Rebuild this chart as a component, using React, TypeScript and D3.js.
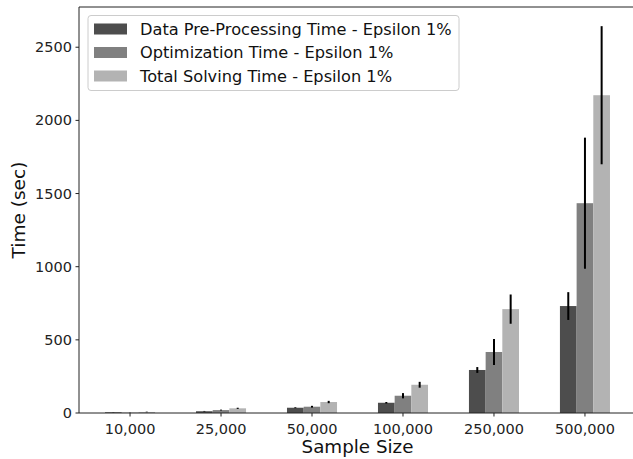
import React from 'react';
import * as d3 from 'd3';

// chart values
const sampleSizes = ['10,000', '25,000', '50,000', '100,000', '250,000', '500,000'];
const seriesNames = [
    'Data Pre-Processing Time - Epsilon 1%',
    'Optimization Time - Epsilon 1%',
    'Total Solving Time - Epsilon 1%'
];
const preProcessing = [5, 12, 36, 70, 294, 731];
const preProcessingErr = [1, 2, 3, 5, 20, 95];
const optimization = [2, 20, 43, 118, 417, 1434];
const optimizationErr = [1, 3, 6, 18, 89, 448];
const totalSolving = [7, 32, 75, 193, 710, 2172];
const totalSolvingErr = [2, 4, 8, 20, 100, 472];
const yTicks = [0, 500, 1000, 1500, 2000, 2500];

const colors = ['#4d4d4d', '#808080', '#b3b3b3'];
const W = 633, H = 459;
const m = {left: 79, top: 7, right: 636, bottom: 413};
const font = 'DejaVu Sans, sans-serif';

export default function App() {
    const values = [preProcessing, optimization, totalSolving];
    const errors = [preProcessingErr, optimizationErr, totalSolvingErr];

    const x = d3.scaleBand()
        .domain(sampleSizes)
        .range([m.left, m.right])
        .paddingInner(0.45)
        .paddingOuter(0.286);
    const xs = d3.scaleBand()
        .domain(seriesNames)
        .range([0, x.bandwidth()]);
    const y = d3.scaleLinear()
        .domain([0, 2775])
        .range([m.bottom, m.top]);

    return (
        <div style={{position: 'fixed', left: 0, top: 0}}>
            <svg width={W} height={H} style={{display: 'block', background: '#fff'}}>
                {/* bars */}
                {seriesNames.map((s, si) => (
                    <g key={s}>
                        {sampleSizes.map((c, ci) => (
                            <rect key={c}
                                x={x(c)! + xs(s)!}
                                y={y(values[si][ci])}
                                width={xs.bandwidth()}
                                height={y(0) - y(values[si][ci])}
                                fill={colors[si]} />
                        ))}
                    </g>
                ))}
                {/* error bars */}
                {seriesNames.map((s, si) => (
                    <g key={s + '-err'}>
                        {sampleSizes.map((c, ci) => {
                            const cx = x(c)! + xs(s)! + xs.bandwidth() / 2;
                            const v = values[si][ci], e = errors[si][ci];
                            return <line key={c} x1={cx} x2={cx}
                                y1={y(v - e)} y2={y(v + e)}
                                stroke="#000" strokeWidth={2} />;
                        })}
                    </g>
                ))}
                {/* spines (right one falls outside the picture) */}
                <line x1={m.left} x2={m.left} y1={m.top} y2={m.bottom} stroke="#222" />
                <line x1={m.left} x2={m.right} y1={m.bottom} y2={m.bottom} stroke="#222" />
                <line x1={m.left} x2={m.right} y1={m.top} y2={m.top} stroke="#222" />
                {/* y axis */}
                {yTicks.map(t => (
                    <g key={t} transform={`translate(0,${y(t)})`}>
                        <line x1={m.left - 3.5} x2={m.left} stroke="#222" />
                        <text x={m.left - 7} dy="0.35em" textAnchor="end"
                            fontFamily={font} fontSize={14.5} fill="#222">{t}</text>
                    </g>
                ))}
                {/* x axis */}
                {sampleSizes.map(c => {
                    const cx = x(c)! + x.bandwidth() / 2;
                    return (
                        <g key={c} transform={`translate(${cx},0)`}>
                            <line y1={m.bottom} y2={m.bottom + 3.5} stroke="#222" />
                            <text y={m.bottom + 21} textAnchor="middle"
                                fontFamily={font} fontSize={14.5} fill="#222">{c}</text>
                        </g>
                    );
                })}
                <text x={(m.left + m.right) / 2} y={453} textAnchor="middle"
                    fontFamily={font} fontSize={18.3} fill="#111">Sample Size</text>
                <text transform={`translate(24.5,${(m.top + m.bottom) / 2}) rotate(-90)`}
                    textAnchor="middle" fontFamily={font} fontSize={18.5} fill="#111">Time (sec)</text>
                {/* legend */}
                <rect x={88} y={15.5} width={371} height={75} rx={3}
                    fill="#fff" fillOpacity={0.8} stroke="#ccc" />
                {seriesNames.map((s, si) => (
                    <g key={s + '-leg'} transform={`translate(94,${29 + si * 23.5})`}>
                        <rect x={0} y={-5.5} width={33} height={11} fill={colors[si]} />
                        <text x={46} dy="0.35em" fontFamily={font} fontSize={16.2} fill="#111">{s}</text>
                    </g>
                ))}
            </svg>
        </div>
    );
}
